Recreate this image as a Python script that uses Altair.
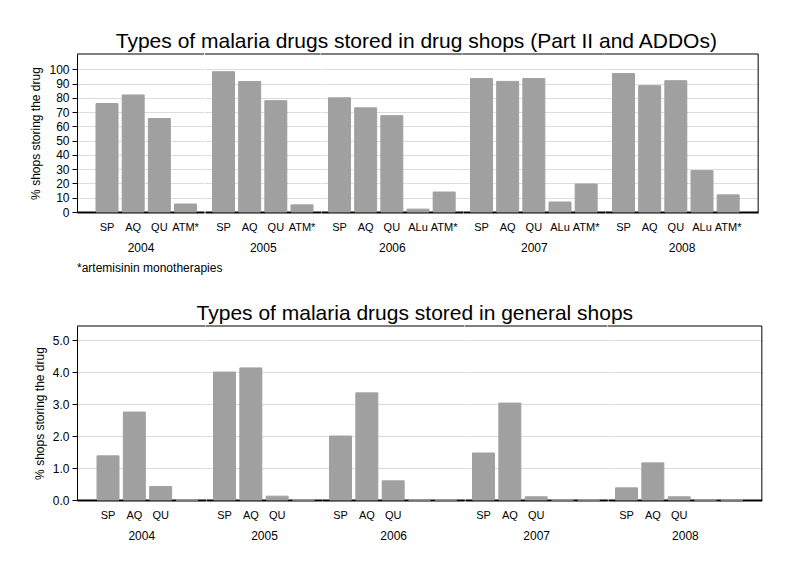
import altair as alt
import pandas as pd

# ---------------- data ----------------
years = ["2004", "2005", "2006", "2007", "2008"]
drugs_2004 = ["SP", "AQ", "QU", "ATM*"]
drugs_2005 = ["SP", "AQ", "QU", "ATM*"]
drugs_2006 = ["SP", "AQ", "QU", "ALu", "ATM*"]
drugs_2007 = ["SP", "AQ", "QU", "ALu", "ATM*"]
drugs_2008 = ["SP", "AQ", "QU", "ALu", "ATM*"]
drug_lists = [drugs_2004, drugs_2005, drugs_2006, drugs_2007, drugs_2008]

# % of drug shops (Part II and ADDOs) storing the drug
drugshop_2004 = [76.0, 82.0, 65.5, 5.6]
drugshop_2005 = [98.3, 91.4, 78.0, 5.0]
drugshop_2006 = [80.0, 73.0, 67.5, 2.0, 14.0]
drugshop_2007 = [93.5, 91.5, 93.5, 7.0, 19.6]
drugshop_2008 = [97.0, 88.5, 92.0, 29.0, 12.0]
drugshop_values = [drugshop_2004, drugshop_2005, drugshop_2006, drugshop_2007, drugshop_2008]

# % of general shops storing the drug
general_2004 = [1.38, 2.75, 0.42, 0.0]
general_2005 = [4.00, 4.13, 0.12, 0.0]
general_2006 = [2.00, 3.35, 0.60, 0.0, 0.0]
general_2007 = [1.47, 3.03, 0.10, 0.0, 0.0]
general_2008 = [0.38, 1.16, 0.10, 0.0, 0.0]
general_values = [general_2004, general_2005, general_2006, general_2007, general_2008]

title_top = "Types of malaria drugs stored in drug shops (Part II and ADDOs)"
title_bottom = "Types of malaria drugs stored in general shops"
y_title = "% shops storing the drug"
footnote = "*artemisinin monotherapies"
top_ticks = list(range(0, 101, 10))
bottom_ticks = [0, 1, 2, 3, 4, 5]

# ---------------- style ----------------
FONT = "Liberation Sans"
BAR = "#a0a0a0"
GRID = "#dcdcdc"


def panel_row(values, ticks, ydom, total_w, height, L, R, gap, bar, yfmt,
              hide_labels=None, note=None):
    n_total = sum(len(d) for d in drug_lists)
    k = len(years)
    # step so that all panels fill the total plot width
    step = (total_w - L - R - (k - 1) * gap - k * bar) / (n_total - k)
    pin = (step - bar) / step
    cells = []
    for i, (yr, drugs, vals) in enumerate(zip(years, drug_lists, values)):
        lm = L if i == 0 else gap / 2
        rm = R if i == k - 1 else gap / 2
        w = lm + rm + len(drugs) * step - (step - bar)
        df = pd.DataFrame({"drug": drugs, "pct": vals, "year": yr})
        label_expr = "datum.label"
        if hide_labels:
            cond = " || ".join(f"datum.label == '{h}'" for h in hide_labels)
            label_expr = f"({cond}) ? '' : datum.label"
        xenc = alt.X(
            "drug:N", sort=drugs,
            scale=alt.Scale(paddingInner=pin, paddingOuter=(lm + rm) / (2 * step),
                            align=lm / (lm + rm)),
            axis=alt.Axis(title=yr, labelAngle=0, ticks=False, tickSize=0,
                          labelPadding=9, titlePadding=10, domainColor="black",
                          domainWidth=2, labelFontSize=11, titleFontSize=12,
                          titleFontWeight="normal", labelColor="black",
                          titleColor="black", labelExpr=label_expr, grid=False))
        if i == 0:
            yaxis = alt.Axis(values=ticks, title=y_title, format=yfmt, tickSize=5,
                             tickColor="black", domainColor="black", labelPadding=3,
                             titlePadding=6, gridColor=GRID, labelFontSize=12,
                             titleFontSize=12, titleFontWeight="normal",
                             labelColor="black", titleColor="black")
        else:
            yaxis = alt.Axis(values=ticks, title=None, labels=False, ticks=False,
                             domain=False, gridColor=GRID)
        yenc = alt.Y("pct:Q", scale=alt.Scale(domain=ydom, nice=False, zero=True),
                     axis=yaxis)
        bars = alt.Chart(df).mark_bar(color=BAR, stroke=BAR, strokeWidth=1).encode(
            x=xenc, y=yenc)
        one = pd.DataFrame({"a": [0]})
        top_rule = alt.Chart(one).mark_rule(color="black", strokeWidth=1).encode(
            x=alt.value(0), x2=alt.value(w), y=alt.value(0))
        layers = [bars, top_rule]
        if i == k - 1:
            layers.append(alt.Chart(one).mark_rule(color="black", strokeWidth=1).encode(
                x=alt.value(w), y=alt.value(0), y2=alt.value(height)))
        if note is not None and i == 0:
            layers.append(alt.Chart(pd.DataFrame({"t": [note]})).mark_text(
                align="left", baseline="middle", fontSize=12, font=FONT,
                color="black").encode(text="t:N", x=alt.value(0),
                                      y=alt.value(height + 56)))
        cells.append(alt.layer(*layers).properties(width=w, height=height))
    return cells


top_cells = panel_row(drugshop_values, top_ticks, [0, 110.7], 679, 158,
                      19, 19, 15, 22, "d", note=footnote)
bottom_cells = panel_row(general_values, bottom_ticks, [0, 5.44], 683, 174,
                         20, 19, 15, 22, ".1f", hide_labels=["ALu", "ATM*"])

top = alt.hconcat(*top_cells, spacing=0, bounds="flush").resolve_scale(
    x="independent", y="independent").properties(
    title=alt.TitleParams(title_top, anchor="middle", fontSize=21,
                          fontWeight="normal", color="black", font=FONT,
                          offset=2, dx=22))
bottom = alt.hconcat(*bottom_cells, spacing=0, bounds="flush").resolve_scale(
    x="independent", y="independent").properties(
    title=alt.TitleParams(title_bottom, anchor="middle", fontSize=21,
                          fontWeight="normal", color="black", font=FONT,
                          offset=2, dx=17))

chart = alt.vconcat(top, bottom, spacing=28).properties(
    padding={"left": 21, "top": 22, "right": 5, "bottom": 5}
).configure_view(stroke=None).configure_axis(
    labelFont=FONT, titleFont=FONT).configure_text(font=FONT)

chart.save("out.html", embed_options={"renderer": "svg", "actions": False})
